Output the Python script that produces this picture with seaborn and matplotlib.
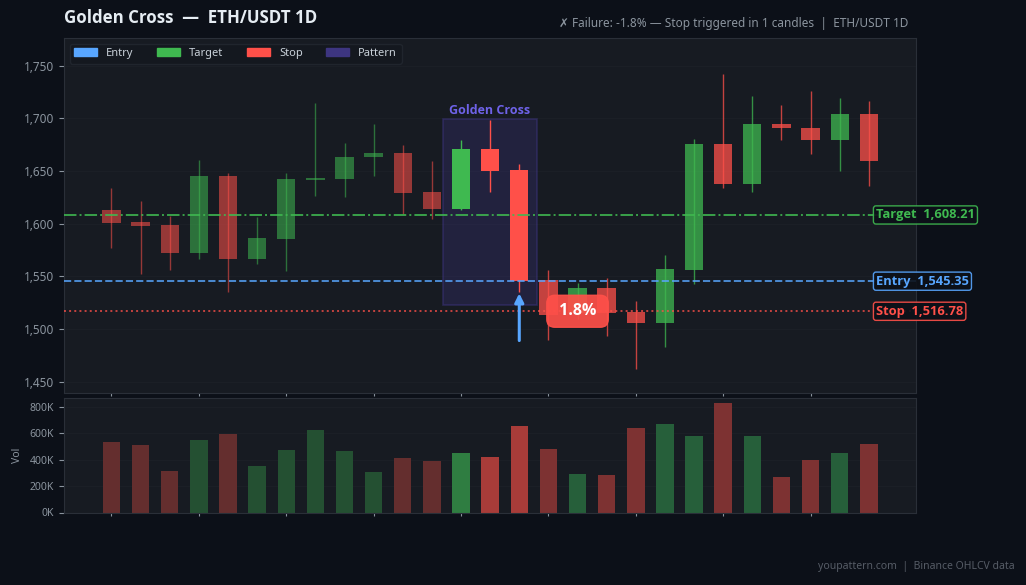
import matplotlib
matplotlib.use("Agg")
import matplotlib.pyplot as plt
from matplotlib.patches import Patch, Rectangle
from matplotlib.ticker import FuncFormatter
import numpy as np
import pandas as pd
import seaborn as sns

# ----------------------------
# data
# ----------------------------
opens = [1612.6, 1601.2, 1598.3, 1572.1, 1644.8, 1566.4, 1585.4, 1641.3, 1641.9,
         1662.8, 1666.6, 1629.6, 1613.8, 1671.3, 1650.5, 1546.2, 1515.0, 1538.6,
         1515.9, 1505.7, 1555.7, 1675.1, 1637.5, 1694.1, 1691.2, 1679.2, 1703.6]
closes = [1600.5, 1597.7, 1572.1, 1644.8, 1566.4, 1586.0, 1641.9, 1642.9, 1663.7,
          1666.6, 1629.0, 1613.8, 1671.3, 1649.8, 1545.9, 1513.3, 1538.6, 1515.2,
          1505.7, 1556.6, 1675.1, 1637.5, 1694.1, 1690.6, 1679.2, 1703.6, 1659.3]
highs = [1633.4, 1621.1, 1606.9, 1660.0, 1647.6, 1605.9, 1647.6, 1714.9, 1676.1,
         1695.0, 1674.2, 1659.0, 1678.9, 1697.9, 1656.2, 1555.7, 1543.4, 1548.1,
         1526.3, 1569.9, 1679.9, 1742.4, 1721.6, 1713.0, 1726.3, 1719.7, 1716.8]
lows = [1576.8, 1552.2, 1556.0, 1566.4, 1535.1, 1561.7, 1555.0, 1626.1, 1624.9,
        1645.0, 1608.8, 1604.0, 1612.8, 1629.9, 1534.8, 1489.6, 1509.0, 1493.4,
        1462.1, 1483.0, 1542.4, 1633.7, 1629.9, 1679.2, 1665.9, 1649.8, 1635.6]
volumes = [534, 511, 314, 549, 595, 352, 473, 625, 466, 306, 413, 385, 450, 420,
           655, 480, 290, 285, 640, 670, 580, 830, 580, 270, 400, 450, 520]

entry = 1545.35
target = 1608.21
stop = 1516.78
pattern_start = 11.37
pattern_end = 14.6
pattern_low = 1522.5
pattern_high = 1699.0
y_ticks = [1450, 1500, 1550, 1600, 1650, 1700, 1750]
vol_ticks = [0, 200, 400, 600, 800]
x_ticks = [0, 3, 6, 9, 12, 15, 18, 21, 24]

# colours
BG = "#0c1018"
PANEL = "#171b22"
GRID = "#1c2027"
EDGE = "#2a2f38"
TICK = "#8b949e"
GREEN = "#3fb950"
RED = "#ff5049"
BLUE = "#58a6ff"
PURPLE = "#6e62e8"
PATTERN = "#3d3580"
BOLD = ["Open Sans", "DejaVu Sans"]

sns.set_theme(style="dark")
plt.rcParams["font.family"] = ["Noto Sans", "DejaVu Sans"]

df = pd.DataFrame({"open": opens, "close": closes, "high": highs, "low": lows, "vol": volumes})
df["x"] = np.arange(len(df))
df["up"] = df["close"] >= df["open"]
df["phase"] = ["pre" if i < 12 else "pat" if i < 15 else "post" for i in df["x"]]
candle_alpha = {"pre": 0.55, "pat": 1.0, "post": 0.75}
df["key"] = df["phase"] + np.where(df["up"], "_up", "_down")
vol_palette = {
    "pre_up": "#245032", "pre_down": "#642e2e",
    "pat_up": "#2f7d41", "pat_down": "#a83c39",
    "post_up": "#265f3a", "post_down": "#7d3232",
}

fig = plt.figure(figsize=(10.26, 5.85), dpi=100, facecolor=BG)
ax = fig.add_axes([64 / 1026, 1 - 393 / 585, 852 / 1026, 355 / 585], facecolor=PANEL)
ax_vol = fig.add_axes([64 / 1026, 1 - 512.5 / 585, 852 / 1026, 115 / 585], facecolor=PANEL)

# ----------------------------
# candles
# ----------------------------
ax.add_patch(Rectangle((pattern_start, pattern_low), pattern_end - pattern_start,
                       pattern_high - pattern_low, facecolor=matplotlib.colors.to_rgba(PATTERN, 0.3),
                       edgecolor=matplotlib.colors.to_rgba(PATTERN, 0.5), linewidth=1.2, zorder=1))
for row in df.itertuples():
    col = GREEN if row.up else RED
    a = candle_alpha[row.phase]
    ax.vlines(row.x, row.low, row.high, color=col, alpha=a, linewidth=1, zorder=2)
    ax.bar(row.x, abs(row.close - row.open), bottom=min(row.open, row.close), width=0.63,
           color=col, alpha=a, linewidth=0, zorder=3)

ax.axhline(target, color=GREEN, linestyle="-.", linewidth=1.4, alpha=0.85, zorder=4)
ax.axhline(entry, color=BLUE, linestyle="--", linewidth=1.4, alpha=0.8, zorder=4)
ax.axhline(stop, color=RED, linestyle=":", linewidth=1.4, alpha=0.75, zorder=4)

for name, val, col in [("Target", target, GREEN), ("Entry", entry, BLUE), ("Stop", stop, RED)]:
    ax.annotate(f"{name}  {val:,.2f}", xy=(876 / 1026, val), xycoords=("figure fraction", "data"),
                ha="left", va="center", fontsize=9.3, fontweight="bold", family=BOLD, color=col, zorder=8,
                annotation_clip=False,
                bbox=dict(boxstyle="round,pad=0.2", facecolor=BG, edgecolor=col, linewidth=1, alpha=0.9))

ax.text((pattern_start + pattern_end) / 2, pattern_high + 2.5, "Golden Cross", ha="center", va="bottom",
        fontsize=9, fontweight="bold", family=BOLD, color=PURPLE, zorder=6)

ax.annotate("", xy=(14, entry - 11.5), xytext=(14, 1489), zorder=7,
            arrowprops=dict(arrowstyle="-|>", color=BLUE, linewidth=2.2, mutation_scale=13,
                            shrinkA=0, shrinkB=0))
ax.text(16, 1516.8, " 1.8% ", ha="center", va="center", fontsize=11.5, fontweight="bold", family=BOLD,
        color="white", zorder=9,
        bbox=dict(boxstyle="round,pad=0.5", facecolor=RED, edgecolor=RED, alpha=0.92, linewidth=1))

ax.set_xlim(-1.63, 27.62)
ax.set_ylim(1439.2, 1776.2)
ax.set_yticks(y_ticks)
ax.yaxis.set_major_formatter(FuncFormatter(lambda v, _: f"{v:,.0f}"))
ax.set_xticks(x_ticks)
ax.tick_params(axis="x", bottom=True, labelbottom=False, length=2.5, width=0.8, color=TICK)
ax.tick_params(axis="y", left=True, labelsize=8.5, labelcolor=TICK, length=3.5, width=0.8, color=TICK)
ax.grid(True, axis="y", color=GRID, linewidth=0.7, zorder=0)
ax.grid(False, axis="x")
ax.set_axisbelow(True)

handles = [Patch(color=BLUE, label="Entry"), Patch(color=GREEN, label="Target"),
           Patch(color=RED, label="Stop"), Patch(color=PATTERN, label="Pattern")]
leg = ax.legend(handles=handles, loc="upper left", ncol=4, fontsize=8, frameon=True,
                facecolor="#14181f", edgecolor="#20252d", framealpha=1, labelcolor="#c9d1d9",
                handlelength=2.1, handletextpad=0.8, columnspacing=2.1, borderpad=0.4,
                bbox_to_anchor=(0.004, 0.99), borderaxespad=0.2)
leg.set_zorder(10)

# ----------------------------
# volume
# ----------------------------
sns.barplot(data=df, x="x", y="vol", hue="key", palette=vol_palette, native_scale=True, dodge=False,
            width=0.6, saturation=1, legend=False, linewidth=0, ax=ax_vol, zorder=2)
ax_vol.set_xlim(-1.63, 27.62)
ax_vol.set_ylim(0, 868)
ax_vol.set_yticks(vol_ticks)
ax_vol.yaxis.set_major_formatter(FuncFormatter(lambda v, _: f"{v:.0f}K"))
ax_vol.set_xticks(x_ticks)
ax_vol.set_xlabel("")
ax_vol.set_ylabel("Vol", fontsize=7.5, color=TICK, labelpad=5)
ax_vol.tick_params(axis="x", bottom=True, labelbottom=False, length=2.5, width=0.8, color=TICK)
ax_vol.tick_params(axis="y", left=True, labelsize=7.5, labelcolor=TICK, length=3.5, width=0.8, color=TICK)
ax_vol.grid(True, axis="y", color=GRID, linewidth=0.7, zorder=0)
ax_vol.grid(False, axis="x")
ax_vol.set_axisbelow(True)

for a in (ax, ax_vol):
    for sp in a.spines.values():
        sp.set_color(EDGE)
        sp.set_linewidth(0.8)

# ----------------------------
# titles
# ----------------------------
fig.text(64 / 1026, 1 - 18 / 585, "Golden Cross  \u2014  ETH/USDT 1D", ha="left", va="center",
         fontsize=12.2, fontweight="bold", family=BOLD, color="#e6edf3")
fig.text(908 / 1026, 1 - 23 / 585, "\u2717 Failure: -1.8% \u2014 Stop triggered in 1 candles  |  ETH/USDT 1D",
         ha="right", va="center", fontsize=8.5, color=TICK)
fig.text(1015 / 1026, 1 - 567 / 585, "youpattern.com  |  Binance OHLCV data", ha="right", va="center",
         fontsize=7.5, color="#565c66")

fig.savefig("out.png", dpi=100, facecolor=BG)
